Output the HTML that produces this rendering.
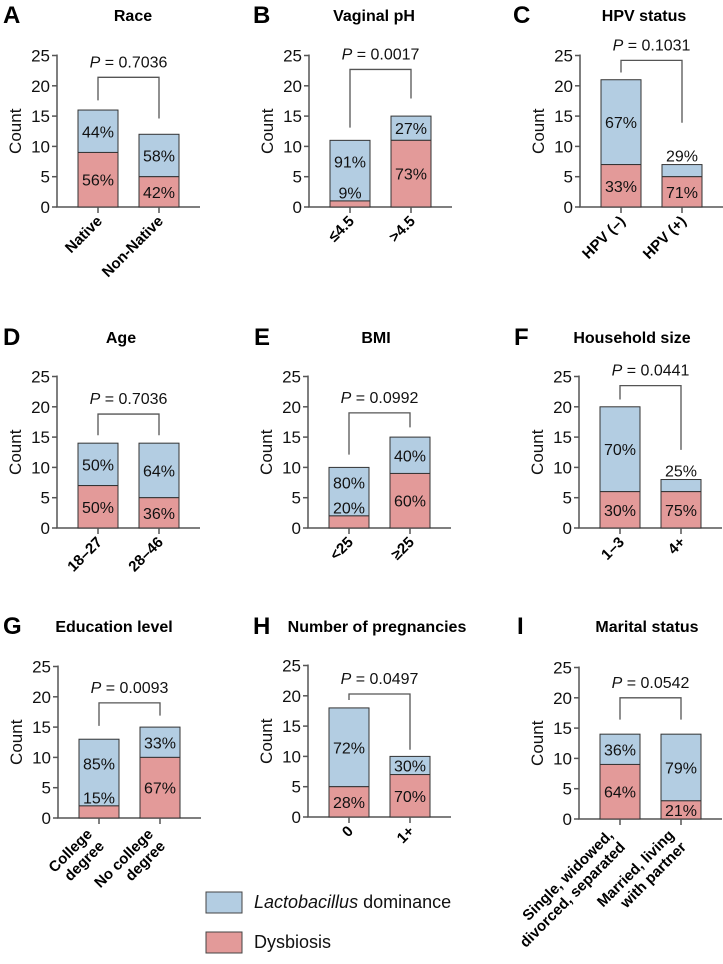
<!DOCTYPE html>
<html><head><meta charset="utf-8"><style>
html,body{margin:0;padding:0;background:#fff}
svg{display:block;font-family:"Liberation Sans",Arial,sans-serif}
</style></head><body>
<svg id="fig" width="723" height="964" viewBox="0 0 723 964" xmlns="http://www.w3.org/2000/svg">
<g id="legend">
<rect x="206" y="892" width="36" height="21" fill="#b3cde2" stroke="#444" stroke-width="1"/>
<text x="254" y="908" font-size="18" fill="#111"><tspan font-style="italic">Lactobacillus</tspan> dominance</text>
<rect x="206" y="932" width="36" height="21" fill="#e39a99" stroke="#444" stroke-width="1"/>
<text x="254" y="948" font-size="18" fill="#111">Dysbiosis</text>
</g>
</svg>
<script>
// ---- data ----
const raceCats=[["Native"],["Non-Native"]];
const raceDys=[9,5];
const raceLac=[7,7];
const racePctDys=["56%","42%"];
const racePctLac=["44%","58%"];
const raceP="0.7036";

const phCats=[["≤4.5"],[">4.5"]];
const phDys=[1,11];
const phLac=[10,4];
const phPctDys=["9%","73%"];
const phPctLac=["91%","27%"];
const phP="0.0017";

const hpvCats=[["HPV (–)"],["HPV (+)"]];
const hpvDys=[7,5];
const hpvLac=[14,2];
const hpvPctDys=["33%","71%"];
const hpvPctLac=["67%","29%"];
const hpvP="0.1031";

const ageCats=[["18–27"],["28–46"]];
const ageDys=[7,5];
const ageLac=[7,9];
const agePctDys=["50%","36%"];
const agePctLac=["50%","64%"];
const ageP="0.7036";

const bmiCats=[["<25"],["≥25"]];
const bmiDys=[2,9];
const bmiLac=[8,6];
const bmiPctDys=["20%","60%"];
const bmiPctLac=["80%","40%"];
const bmiP="0.0992";

const hhCats=[["1–3"],["4+"]];
const hhDys=[6,6];
const hhLac=[14,2];
const hhPctDys=["30%","75%"];
const hhPctLac=["70%","25%"];
const hhP="0.0441";

const eduCats=[["College","degree"],["No college","degree"]];
const eduDys=[2,10];
const eduLac=[11,5];
const eduPctDys=["15%","67%"];
const eduPctLac=["85%","33%"];
const eduP="0.0093";

const pregCats=[["0"],["1+"]];
const pregDys=[5,7];
const pregLac=[13,3];
const pregPctDys=["28%","70%"];
const pregPctLac=["72%","30%"];
const pregP="0.0497";

const marCats=[["Single, widowed,","divorced, separated"],["Married, living","with partner"]];
const marDys=[9,3];
const marLac=[5,11];
const marPctDys=["64%","21%"];
const marPctLac=["36%","79%"];
const marP="0.0542";

const yTicks=[0,5,10,15,20,25];

// ---- layout ----
const NS="http://www.w3.org/2000/svg";
const svg=document.getElementById("fig");
const UNIT=6.06;
const panels=[
 {id:"a",L:"A",title:"Race",cats:raceCats,dys:raceDys,lac:raceLac,pd:racePctDys,pl:racePctLac,p:raceP,ax:57,y0:207,lx:3,tx:133,ty:21,br:[21.4,17.6,14.6]},
 {id:"b",L:"B",title:"Vaginal pH",cats:phCats,dys:phDys,lac:phLac,pd:phPctDys,pl:phPctLac,p:phP,ax:309,y0:207,lx:253,tx:374,ty:21,br:[22.7,13.1,17.9]},
 {id:"c",L:"C",title:"HPV status",cats:hpvCats,dys:hpvDys,lac:hpvLac,pd:hpvPctDys,pl:hpvPctLac,p:hpvP,ax:580,y0:207,lx:513,tx:644,ty:21,br:[24.2,22.2,13.9]},
 {id:"d",L:"D",title:"Age",cats:ageCats,dys:ageDys,lac:ageLac,pd:agePctDys,pl:agePctLac,p:ageP,ax:57,y0:528,lx:3,tx:121,ty:343,br:[18.8,15.3,15.3]},
 {id:"e",L:"E",title:"BMI",cats:bmiCats,dys:bmiDys,lac:bmiLac,pd:bmiPctDys,pl:bmiPctLac,p:bmiP,ax:308,y0:528,lx:254,tx:376,ty:343,br:[19.0,12.1,16.6]},
 {id:"f",L:"F",title:"Household size",cats:hhCats,dys:hhDys,lac:hhLac,pd:hhPctDys,pl:hhPctLac,p:hhP,ax:579,y0:528,lx:514,tx:632,ty:343,br:[23.5,21.2,12.9]},
 {id:"g",L:"G",title:"Education level",cats:eduCats,dys:eduDys,lac:eduLac,pd:eduPctDys,pl:eduPctLac,p:eduP,ax:58,y0:818,lx:3,tx:114,ty:632,br:[19.0,15.2,16.9]},
 {id:"h",L:"H",title:"Number of pregnancies",cats:pregCats,dys:pregDys,lac:pregLac,pd:pregPctDys,pl:pregPctLac,p:pregP,ax:308,y0:817,lx:253,tx:377,ty:632,br:[20.3,19.3,11.1]},
 {id:"i",L:"I",title:"Marital status",cats:marCats,dys:marDys,lac:marLac,pd:marPctDys,pl:marPctLac,p:marP,ax:579,y0:819,lx:517,tx:647,ty:632,br:[20.0,16.4,16.4]}
];
function mk(tag,attrs,parent){const e=document.createElementNS(NS,tag);for(const k in attrs)e.setAttribute(k,attrs[k]);(parent||svg).appendChild(e);return e;}
const BAR_OFF=[21,82], BAR_W=40, AX_LEN=143;

panels.forEach(P=>{
 const g=mk("g",{});
 
 
 const yS=v=>P.y0-v*UNIT;
 const xC=i=>P.ax+BAR_OFF[i]+BAR_W/2;
 let t=mk("text",{x:P.lx,y:P.ty+2,"font-size":24,"font-weight":"bold",fill:"#000"},g);t.textContent=P.L;
 
 
 t=mk("text",{x:P.tx,y:P.ty,"font-size":16,"font-weight":"bold","text-anchor":"middle",fill:"#000"},g);t.textContent=P.title;
 
 
 // y axis
 const yax=mk("line",{x1:P.ax,x2:P.ax,y1:yS(25)-1,y2:P.y0,stroke:"#555","stroke-width":1.5},g);
 
 
 yTicks.forEach(v=>{
  mk("line",{x1:P.ax-5,x2:P.ax,y1:yS(v),y2:yS(v),stroke:"#555","stroke-width":1.5},g);
  const tl=mk("text",{x:P.ax-7,y:yS(v)+6,"font-size":17,"text-anchor":"end",fill:"#111"},g);tl.textContent=v;
  
  
 });
 const yt=mk("text",{transform:`translate(${P.ax-36},${yS(12.5)}) rotate(-90)`,"font-size":17,"text-anchor":"middle",fill:"#111"},g);yt.textContent="Count";
 
 
 // x axis
 const xax=mk("line",{x1:P.ax-0.75,x2:P.ax+AX_LEN,y1:P.y0,y2:P.y0,stroke:"#555","stroke-width":1.5},g);
 
 
 P.cats.forEach((c,i)=>{
  const x=xC(i), d=P.dys[i], l=P.lac[i], tot=d+l, bx=P.ax+BAR_OFF[i];
  const rb=mk("rect",{x:bx,y:yS(tot),width:BAR_W,height:l*UNIT,fill:"#b3cde2",stroke:"#333","stroke-width":1},g);
  
  
  const rr=mk("rect",{x:bx,y:yS(d),width:BAR_W,height:d*UNIT,fill:"#e39a99",stroke:"#333","stroke-width":1},g);
  
  
  // labels
  let dyY, lcY;
  if(d>=2.5){dyY=d/2;} else {dyY=d+1.4;}
  if(l>=2.5){const lo=d>=2.5?d:d+3;lcY=(lo+tot)/2;} else {lcY=tot+1.5;}
  const t1=mk("text",{x:x,y:yS(dyY)+6,"font-size":16,"text-anchor":"middle",fill:"#111"},g);t1.textContent=P.pd[i];
  
  
  const t2=mk("text",{x:x,y:yS(lcY)+6,"font-size":16,"text-anchor":"middle",fill:"#111"},g);t2.textContent=P.pl[i];
  
  
  // x tick + label
  mk("line",{x1:x,x2:x,y1:P.y0,y2:P.y0+6,stroke:"#555","stroke-width":1.5},g);
  let axX, axY;
  if(c.length===1){axX=x+5;axY=P.y0+15;} else {axX=x-6;axY=P.y0+17;}
  const xl=mk("text",{transform:`translate(${axX},${axY}) rotate(-45)`,"font-size":15,"font-weight":"bold","text-anchor":"end",fill:"#000"},g);
  
  
  c.forEach((line,k)=>{const ts=mk("tspan",{x:0,dy:k?17:0},xl);ts.textContent=line;});
 });
 // bracket
 const [top,l1,l2]=P.br;
 const br=mk("path",{d:`M${xC(0)},${yS(l1)} V${yS(top)} H${xC(1)} V${yS(l2)}`,fill:"none",stroke:"#555","stroke-width":1.3},g);
 
 
 const pt=mk("text",{x:(xC(0)+xC(1))/2,y:yS(top)-10,"font-size":16,"text-anchor":"middle",fill:"#111"},g);
 
 
 const it=mk("tspan",{"font-style":"italic"},pt);it.textContent="P";
 const rest=mk("tspan",{},pt);rest.textContent=" = "+P.p;
});
</script>
</body></html>
